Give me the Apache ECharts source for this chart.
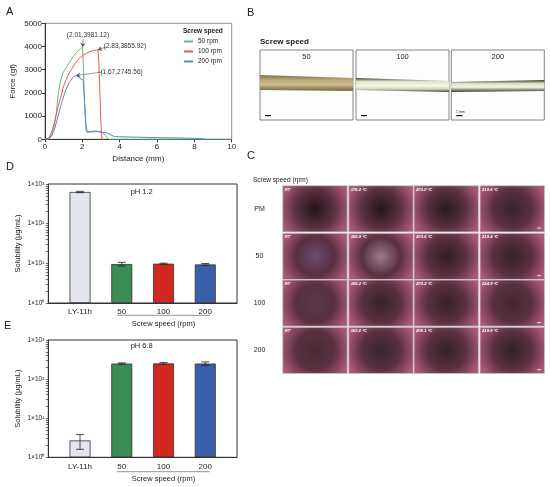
<!DOCTYPE html>
<html>
<head>
<meta charset="utf-8">
<script src="https://cdn.jsdelivr.net/npm/echarts@6/dist/echarts.min.js"></script>
<style>
  html, body { margin: 0; padding: 0; background: #fff; }
  #main { width: 550px; height: 487px; }
</style>
</head>
<body>
<div id="main"></div>
<script>
// panel A: force-distance curves
var dist50 = [0, 0.2, 0.35, 0.5, 0.6, 0.7, 0.8, 0.95, 1.1, 1.3, 1.5, 1.7, 1.9, 2.01, 2.06, 2.12, 2.2, 2.4, 2.6, 2.9, 3.1, 3.25, 3.4, 10];
var force50 = [0, 10, 150, 600, 1100, 1900, 2400, 2850, 3050, 3300, 3550, 3750, 3900, 3981, 3000, 1500, 350, 330, 360, 340, 300, 150, 0, 0];
var dist100 = [0, 0.1, 0.2, 0.35, 0.5, 0.7, 0.9, 1.0, 1.2, 1.4, 1.6, 1.8, 2.0, 2.2, 2.4, 2.6, 2.83, 2.88, 2.94, 3.0, 3.05, 3.2];
var force100 = [0, 0, 50, 300, 700, 1400, 2000, 2300, 2700, 3000, 3250, 3450, 3600, 3700, 3780, 3830, 3856, 3400, 2000, 600, 0, 0];
var dist200 = [0, 0.2, 0.35, 0.5, 0.7, 0.9, 1.1, 1.3, 1.5, 1.67, 1.8, 1.9, 2.05, 2.12, 2.2, 2.27, 2.5, 2.8, 3.1, 3.3, 3.5, 3.7, 4.0, 5.0, 6.0, 7.0, 8.0, 8.5, 8.6];
var force200 = [0, 10, 150, 400, 1000, 1600, 2100, 2450, 2680, 2746, 2700, 2600, 2550, 1600, 600, 300, 320, 330, 300, 280, 200, 120, 110, 90, 70, 60, 40, 20, 0];
var peaks = [[2.01, 3981.12], [2.83, 3855.92], [1.67, 2745.56]];
var speedNames = ['50 rpm', '100 rpm', '200 rpm'];

// panels D, E: solubility
var solCats = ['LY-11h', '50', '100', '200'];
var solPh12 = [630, 9.6, 9.8, 9.4];
var errPh12 = [25, 1.0, 0.3, 0.5];
var solPh68 = [2.7, 250, 252, 250];
var errPh68 = [1.1, 10, 14, 25];

// panels B, C labels
var fiberLabels = ['50', '100', '200'];
var rowLabels = ['PM', '50', '100', '200'];
var tempLabels = [
  ['RT', '176.2 °C', '203.0 °C', '219.8 °C'],
  ['RT', '165.9 °C', '203.6 °C', '219.4 °C'],
  ['RT', '166.2 °C', '203.2 °C', '224.9 °C'],
  ['RT', '163.0 °C', '200.1 °C', '219.8 °C']
];

var lineColors = ['#66b87c', '#f0544c', '#5b87cc'];
var barColors = ['#e2e4ee', '#3c8d55', '#d0281f', '#3a5ea8'];
var FONT = 'Liberation Sans, Arial, sans-serif';

function zip(a, b) { return a.map(function (v, i) { return [v, b[i]]; }); }
var sup = { '0': '\u2070', '1': '\u00b9', '2': '\u00b2', '3': '\u00b3' };
function logLabel(v) {
  var e = Math.round(Math.log10(v));
  return '1\u00d710' + sup[String(e)];
}
// major + minor tick positions on the log axes
var logTicks = [1, 10, 100, 1000];
[1, 10, 100].forEach(function (b) { for (var k = 2; k <= 9; k++) logTicks.push(b * k); });

// annotation text anchors (in data units) for each peak
var noteText = [[2.30, 4500], [4.28, 4020], [4.10, 2900]];
var noteFrom = [[2.05, 4320], [3.27, 3980], [3.05, 2900]];

var chartDom = document.getElementById('main');
var myChart = echarts.init(chartDom);

function errSeries(xi, yi, vals, errs) {
  return {
    type: 'custom', xAxisIndex: xi, yAxisIndex: yi, z: 5,
    data: vals.map(function (v, i) { return [i, v, errs[i]]; }),
    renderItem: function (params, api) {
      var x = api.value(0), y = api.value(1), e = api.value(2);
      var top = api.coord([x, y + e]);
      var bot = api.coord([x, Math.max(y - e, 1.0001)]);
      var w = 4;
      var st = { stroke: '#222', lineWidth: 0.8 };
      return {
        type: 'group', children: [
          { type: 'line', shape: { x1: top[0], y1: top[1], x2: bot[0], y2: bot[1] }, style: st },
          { type: 'line', shape: { x1: top[0] - w, y1: top[1], x2: top[0] + w, y2: top[1] }, style: st },
          { type: 'line', shape: { x1: bot[0] - w, y1: bot[1], x2: bot[0] + w, y2: bot[1] }, style: st }
        ]
      };
    }
  };
}

function barSeries(xi, yi, vals) {
  return {
    type: 'bar', xAxisIndex: xi, yAxisIndex: yi, barWidth: 21,
    data: vals.map(function (v, i) {
      return { value: [i, v], itemStyle: { color: barColors[i] } };
    }),
    itemStyle: { borderColor: '#333', borderWidth: 0.8 }
  };
}

function catAxis(gi) {
  return {
    type: 'value', gridIndex: gi, min: -0.76, max: 3.76,
    axisLine: { onZero: false, lineStyle: { color: '#333', width: 1 } },
    axisTick: { show: false }, splitLine: { show: false },
    axisLabel: {
      customValues: [0, 1, 2, 3], fontSize: 8, color: '#222', fontFamily: FONT, margin: 5,
      formatter: function (v) { return solCats[Math.round(v)]; }
    }
  };
}

function logAxis(gi) {
  return {
    type: 'log', gridIndex: gi, min: 1, max: 1000, logBase: 10, position: 'left',
    name: 'Solubility (\u00b5g/mL)', nameLocation: 'middle', nameGap: 26,
    nameTextStyle: { fontSize: 7.5, color: '#222', fontFamily: FONT },
    axisLine: { show: true, onZero: false, lineStyle: { color: '#333', width: 1 } },
    axisTick: { show: true, length: 2.5, customValues: logTicks, lineStyle: { color: '#333', width: 0.7 } },
    splitLine: { show: false },
    axisLabel: { fontSize: 6.5, color: '#222', fontFamily: FONT, margin: 4, formatter: logLabel }
  };
}

var series = [];
[[dist50, force50], [dist100, force100], [dist200, force200]].forEach(function (d, i) {
  var p = peaks[i];
  series.push({
    name: speedNames[i], type: 'line', xAxisIndex: 0, yAxisIndex: 0,
    data: zip(d[0], d[1]), showSymbol: false, symbol: 'none',
    lineStyle: { width: 1, color: lineColors[i] }, itemStyle: { color: lineColors[i] },
    markPoint: {
      symbol: 'circle', symbolSize: 0, silent: true,
      label: { show: true, position: 'inside', fontSize: 6.5, color: '#333', fontFamily: FONT,
        formatter: function (q) { return q.name; } },
      data: [{ name: '(' + p[0].toFixed(2) + ',' + p[1].toFixed(2) + ')', coord: noteText[i] }]
    },
    markLine: {
      silent: true, symbol: ['none', 'arrow'], symbolSize: 4,
      label: { show: false },
      lineStyle: { color: '#555', width: 0.6, type: 'solid' },
      data: [[{ coord: noteFrom[i] }, { coord: p }]]
    }
  });
});
series.push(barSeries(1, 1, solPh12));
series.push(errSeries(1, 1, solPh12, errPh12));
series.push(barSeries(2, 2, solPh68));
series.push(errSeries(2, 2, solPh68, errPh68));

// --- static decoration for photo panels and labels ---
var graphics = [];
function txt(x, y, s, size, opt) {
  var st = { x: x, y: y, text: s, fontSize: size, fill: '#222', fontFamily: FONT };
  for (var k in (opt || {})) st[k] = opt[k];
  graphics.push({ type: 'text', style: st, silent: true });
}
txt(6, 6, 'A', 11);
txt(247, 7, 'B', 11);
txt(247, 150, 'C', 11);
txt(6, 161, 'D', 11);
txt(4, 320, 'E', 11);
txt(183, 28, 'Screw speed', 6.5, { fontWeight: 'bold' });
txt(141.7, 192.3, 'pH 1.2', 7.5, { textAlign: 'center', textVerticalAlign: 'middle' });
txt(141.7, 345.5, 'pH 6.8', 7.5, { textAlign: 'center', textVerticalAlign: 'middle' });
[[315.3, 323.5], [471.7, 479]].forEach(function (r) {
  graphics.push({ type: 'line', silent: true, shape: { x1: 117, y1: r[0], x2: 210, y2: r[0] }, style: { stroke: '#777', lineWidth: 0.8 } });
  txt(163.5, r[1], 'Screw speed (rpm)', 7.5, { textAlign: 'center', textVerticalAlign: 'middle' });
});

// panel B boxes
txt(260, 37.5, 'Screw speed', 8, { fontWeight: 'bold' });
var boxX = [260, 356, 451.3];
var bands = [
  [[0, 25], [93, 28], [93, 41], [0, 40]],
  [[0, 28], [93, 31], [93, 42], [0, 40]],
  [[0, 32], [93, 30], [93, 41], [0, 42]]
];
var bandFill = [
  [['#7d6e48', 0], ['#b9a878', 0.3], ['#cbbd90', 0.6], ['#74653f', 1]],
  [['#3f3f30', 0], ['#dfe3c8', 0.25], ['#f6f8ea', 0.55], ['#cfd3b5', 0.8], ['#3a3a2c', 1]],
  [['#3a3a2c', 0], ['#dde2c6', 0.3], ['#f2f4e4', 0.6], ['#3a3a2c', 1]]
];
boxX.forEach(function (bx, i) {
  graphics.push({ type: 'rect', silent: true, shape: { x: bx, y: 50, width: 93, height: 70 }, style: { fill: '#fdfdfd', stroke: '#666', lineWidth: 0.8 } });
  graphics.push({
    type: 'polygon', silent: true,
    shape: { points: bands[i].map(function (p) { return [bx + p[0], 50 + p[1]]; }) },
    style: { fill: new echarts.graphic.LinearGradient(0, 0, 0, 1, bandFill[i].map(function (c) { return { offset: c[1], color: c[0] }; })) }
  });
  txt(bx + 46.5, 56.5, fiberLabels[i], 7.5, { textAlign: 'center', textVerticalAlign: 'middle' });
  graphics.push({ type: 'rect', silent: true, shape: { x: bx + 5, y: 115, width: 6, height: 1.2 }, style: { fill: '#111' } });
});
txt(456, 112.5, '1 mm', 3.5, { textVerticalAlign: 'middle' });

// panel C micrographs (approximated by shaded tiles)
txt(253, 180, 'Screw speed (rpm)', 6.5, { textVerticalAlign: 'middle' });
var cellX = [282.7, 348.7, 414, 480];
var cellY = [185.7, 233.3, 280, 327.3];
var tileDark = [
  ['#24141b', '#26151c', '#2a1820', '#3a2230'],
  ['#6a4a70', '#9a7a8e', '#341c24', '#3a2029'],
  ['#5a3a4a', '#3a222c', '#3a2028', '#44262f'],
  ['#4a2a36', '#3a2430', '#36202a', '#36202a']
];
cellY.forEach(function (cy, r) {
  txt(259.5, cy + 23, rowLabels[r], 7, { textAlign: 'center', textVerticalAlign: 'middle' });
  cellX.forEach(function (cx, c) {
    graphics.push({
      type: 'rect', silent: true,
      shape: { x: cx, y: cy, width: 64.6, height: 46.2 },
      style: {
        fill: new echarts.graphic.RadialGradient(0.5, 0.5, 0.75, [
          { offset: 0, color: tileDark[r][c] },
          { offset: 0.55, color: '#5a3040' },
          { offset: 1, color: '#a9587a' }
        ]),
        stroke: '#c8c8c8', lineWidth: 0.8
      }
    });
    txt(cx + 2, cy + 2, tempLabels[r][c], 4.2, { fill: '#fff', fontStyle: 'italic', fontWeight: 'bold' });
    if (c === 3) {
      graphics.push({ type: 'rect', silent: true, shape: { x: cx + 57, y: cy + 42, width: 4, height: 0.8 }, style: { fill: '#fff' } });
    }
  });
});

var option = {
  animation: false,
  backgroundColor: '#fff',
  textStyle: { fontFamily: FONT },
  grid: [
    { left: 45, top: 23.3, width: 186.7, height: 116, show: true, borderColor: '#777', borderWidth: 0.8 },
    { left: 48.3, top: 184, width: 188.7, height: 119, show: true, borderColor: '#333', borderWidth: 1 },
    { left: 48.3, top: 340, width: 188.7, height: 117.3, show: true, borderColor: '#333', borderWidth: 1 }
  ],
  legend: {
    data: speedNames, orient: 'vertical', left: 184, top: 38,
    itemWidth: 9, itemHeight: 2, itemGap: 3, icon: 'rect',
    textStyle: { fontSize: 6.5, color: '#222', fontFamily: FONT }, padding: 0
  },
  xAxis: [
    {
      type: 'value', gridIndex: 0, min: 0, max: 10, interval: 2,
      name: 'Distance (mm)', nameLocation: 'middle', nameGap: 15,
      nameTextStyle: { fontSize: 8, color: '#222', fontFamily: FONT },
      axisLine: { lineStyle: { color: '#333', width: 1 } },
      axisTick: { length: 3, lineStyle: { color: '#333' } },
      splitLine: { show: false },
      axisLabel: { fontSize: 8, color: '#222', fontFamily: FONT, margin: 3 }
    },
    catAxis(1),
    catAxis(2)
  ],
  yAxis: [
    {
      type: 'value', gridIndex: 0, min: 0, max: 5000, interval: 1000,
      name: 'Force (gf)', nameLocation: 'middle', nameGap: 28,
      nameTextStyle: { fontSize: 8, color: '#222', fontFamily: FONT },
      axisLine: { show: true, onZero: false, lineStyle: { color: '#333', width: 1 } },
      axisTick: { show: true, length: 3, lineStyle: { color: '#333' } },
      splitLine: { show: false },
      axisLabel: { fontSize: 8, color: '#222', fontFamily: FONT, margin: 3,
        formatter: function (v) { return String(v); } }
    },
    logAxis(1),
    logAxis(2)
  ],
  series: series,
  graphic: graphics
};

myChart.setOption(option);
</script>
</body>
</html>
